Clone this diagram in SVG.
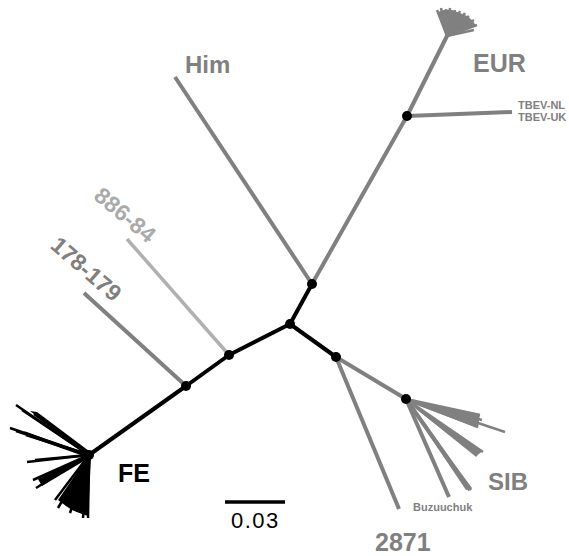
<svg xmlns="http://www.w3.org/2000/svg" width="569" height="556" viewBox="0 0 569 556">
<style>
.g{stroke:#808080;stroke-width:4;fill:none;stroke-linecap:butt}
.lg{stroke:#b0b0b0;stroke-width:3.5;fill:none}
.k{stroke:#000;stroke-width:4;fill:none}
.kf{stroke:#000;stroke-width:2.5;fill:none}
.gf{stroke:#808080;stroke-width:2.5;fill:none}
.dot{fill:#000}
.lab{font-family:"Liberation Sans",Arial,sans-serif;font-weight:bold;fill:#808080}
.sm{font-family:"Liberation Sans",Arial,sans-serif;font-weight:bold;fill:#808080}
.rot{font-family:"Liberation Sans",Arial,sans-serif;font-size:23px;font-weight:bold;text-anchor:middle}
</style>
<rect width="569" height="556" fill="#fff"/>
<g id="connectors">
<line class="k" x1="89" y1="455" x2="186" y2="386"/>
<line class="k" x1="186" y1="386" x2="229" y2="355"/>
<line class="k" x1="229" y1="355" x2="290" y2="324"/>
<line class="k" x1="290" y1="324" x2="312" y2="284"/>
<line class="k" x1="290" y1="324" x2="336" y2="357"/>
<line class="g" x1="186" y1="386" x2="84" y2="293"/>
<line class="lg" x1="229" y1="355" x2="127" y2="239"/>
<line class="g" x1="312" y1="284" x2="175" y2="77"/>
<line class="g" x1="312" y1="284" x2="407" y2="116"/>
<line class="g" x1="407" y1="116" x2="447" y2="36"/>
<line class="g" x1="407" y1="116" x2="512" y2="112"/>
<line class="g" x1="336" y1="357" x2="399" y2="509"/>
<line class="g" x1="336" y1="357" x2="406" y2="399"/>
<line class="g" x1="406" y1="399" x2="449" y2="497"/>
<line class="g" x1="406" y1="399" x2="470" y2="490"/>
</g>
<g id="FE">
<g class="kf">
<line x1="89" y1="455" x2="16" y2="405"/>
<line x1="89" y1="455" x2="22" y2="410"/>
<line x1="89" y1="455" x2="34" y2="414"/>
<line x1="89" y1="455" x2="10" y2="428"/>
<line x1="89" y1="455" x2="16" y2="431"/>
<line x1="89" y1="455" x2="26" y2="435"/>
<line x1="89" y1="455" x2="27" y2="462"/>
<line x1="89" y1="455" x2="35" y2="460"/>
<line x1="89" y1="455" x2="33" y2="480"/>
<line x1="89" y1="455" x2="36" y2="488"/>
<line x1="89" y1="455" x2="42" y2="483"/>
<line x1="89" y1="455" x2="55" y2="500"/>
<line x1="89" y1="455" x2="58" y2="508"/>
<line x1="89" y1="455" x2="66" y2="505"/>
<line x1="89" y1="455" x2="70" y2="513"/>
<line x1="89" y1="455" x2="77" y2="512"/>
<line x1="89" y1="455" x2="83" y2="518"/>
<line x1="89" y1="455" x2="88" y2="518"/>
</g>
<polygon fill="#000" points="89,455 30,411 37,412 89,451"/>
<polygon fill="#000" points="89,455 24,431 30,437 89,458"/>
<polygon fill="#000" points="89,455 38,479 42,486 89,458"/>
<polygon fill="#000" points="89,455 58,500 66,506 72,510 82,514 88,516 91,458"/>
<text class="lab" x="118" y="482" font-size="25" style="fill:#000">FE</text>
</g>
<g id="n178">
<text class="rot" fill="#808080" transform="translate(81,275) rotate(41)">178-179</text>
</g>
<g id="n886">
<text class="rot" fill="#aaaaaa" transform="translate(120,221) rotate(40)">886-84</text>
</g>
<g id="Him">
<text class="lab" x="185" y="73" font-size="24">Him</text>
</g>
<g id="EUR">
<g class="gf">
<line x1="447" y1="36" x2="437" y2="10"/>
<line x1="447" y1="36" x2="441" y2="8"/>
<line x1="447" y1="36" x2="446" y2="9"/>
<line x1="447" y1="36" x2="450" y2="8"/>
<line x1="447" y1="36" x2="455" y2="10"/>
<line x1="447" y1="36" x2="460" y2="11"/>
<line x1="447" y1="36" x2="465" y2="13"/>
<line x1="447" y1="36" x2="469" y2="16"/>
<line x1="447" y1="36" x2="474" y2="20"/>
<line x1="447" y1="36" x2="477" y2="25"/>
<line x1="447" y1="36" x2="474" y2="30"/>
</g>
<polygon fill="#808080" points="447,36 438,12 444,10 452,10 460,13 467,16 473,21 476,26 447,34"/>
<text class="lab" x="473" y="72" font-size="25">EUR</text>
</g>
<g id="TBEV">
<text class="sm" x="518" y="109" font-size="11">TBEV-NL</text>
<text class="sm" x="518" y="121" font-size="11">TBEV-UK</text>
</g>
<g id="SIB">
<g class="gf">
<line x1="406" y1="399" x2="480" y2="415"/>
<line x1="406" y1="399" x2="482" y2="420"/>
<line x1="406" y1="399" x2="478" y2="427"/>
<line x1="406" y1="399" x2="505" y2="432"/>
<line x1="406" y1="399" x2="483" y2="452"/>
<line x1="406" y1="399" x2="477" y2="456"/>
<line x1="406" y1="399" x2="471" y2="490"/>
</g>
<polygon fill="#808080" points="406,399 480,414 478,428 406,401"/>
<polygon fill="#808080" points="406,399 483,451 476,456 406,401"/>
<polygon fill="#808080" points="406,399 472,488 466,490 406,401"/>
<text class="lab" x="488" y="490" font-size="24">SIB</text>
</g>
<g id="Buzuuchuk">
<text class="sm" x="413" y="511" font-size="11">Buzuuchuk</text>
</g>
<g id="n2871">
<text class="lab" x="375" y="551" font-size="25">2871</text>
</g>
<g id="internal-nodes">
<circle class="dot" cx="89" cy="455" r="5"/>
<circle class="dot" cx="186" cy="386" r="5"/>
<circle class="dot" cx="229" cy="355" r="5"/>
<circle class="dot" cx="290" cy="324" r="5"/>
<circle class="dot" cx="312" cy="284" r="5"/>
<circle class="dot" cx="336" cy="357" r="5"/>
<circle class="dot" cx="406" cy="399" r="5"/>
<circle class="dot" cx="407" cy="116" r="5"/>
</g>
<g id="scale">
<line x1="225" y1="502" x2="285" y2="502" stroke="#000" stroke-width="3.5"/>
<text x="231" y="528" font-family="Liberation Sans, Arial, sans-serif" font-size="22" letter-spacing="1.5" fill="#000">0.03</text>
</g>
</svg>
